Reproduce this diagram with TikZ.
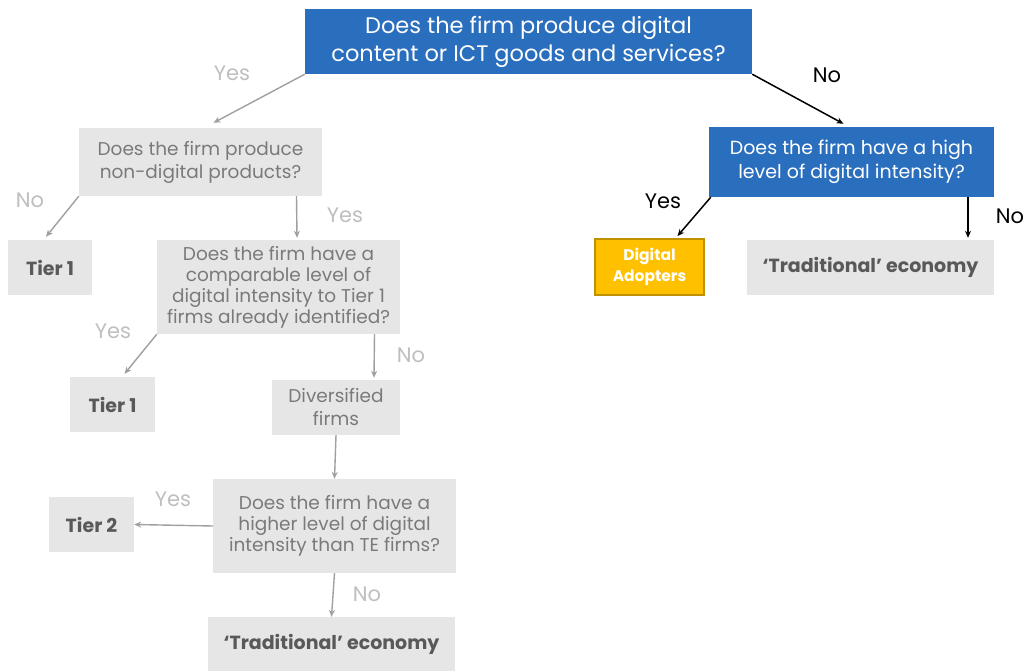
\documentclass[tikz,border=0pt]{standalone}
\usepackage{fontspec}
\setmainfont{Poppins}
\usetikzlibrary{arrows.meta,calc}
\definecolor{qblue}{HTML}{2A6EBE}
\definecolor{boxgray}{HTML}{E7E6E6}
\definecolor{txtgray}{HTML}{7A7A7A}
\definecolor{boldgray}{HTML}{595959}
\definecolor{linegray}{HTML}{A0A0A0}
\definecolor{lblgray}{HTML}{BFBFBF}
\definecolor{gold}{HTML}{FFC000}
\definecolor{golddark}{HTML}{BF9000}
\begin{document}
\begin{tikzpicture}[x=1pt,y=-1pt,
  bluebox/.style={fill=qblue,text=white,inner sep=0pt,align=center},
  graybox/.style={fill=boxgray,text=txtgray,inner sep=0pt,align=center,
    font=\fontsize{18.5}{21}\selectfont},
  endbox/.style={fill=boxgray,text=boldgray,inner sep=0pt,align=center,
    font=\fontsize{19}{23}\selectfont\bfseries},
  garrow/.style={draw=linegray,line width=1.4pt,-{Stealth[length=7pt,width=6pt]}},
  karrow/.style={draw=black,line width=1.5pt,-{Stealth[length=7pt,width=6pt]}},
  glabel/.style={text=lblgray,font=\fontsize{21}{24}\selectfont,inner sep=0pt},
  klabel/.style={text=black,font=\fontsize{21}{24}\selectfont,inner sep=0pt}]
\useasboundingbox[fill=white] (0,0) rectangle (1027,671);

% question boxes
\node[bluebox,font=\fontsize{22.5}{28}\selectfont,minimum width=447pt,minimum height=65pt]
  (top) at (528.5,41.5) {Does the firm produce digital\\content or ICT goods and services?};
\node[graybox,font=\fontsize{18.5}{23}\selectfont,minimum width=243pt,minimum height=68pt]
  (qa) at (200.5,162) {Does the firm produce\\non-digital products?};
\node[graybox,minimum width=243pt,minimum height=94pt] (qb) at (278.5,287)
  {Does the firm have a\\comparable level of\\digital intensity to Tier 1\\firms already identified?};
\node[graybox,font=\fontsize{18.5}{23}\selectfont,minimum width=128pt,minimum height=55pt]
  (div) at (336,407.5) {Diversified\\firms};
\node[graybox,minimum width=243pt,minimum height=94pt] (qc) at (334.5,526)
  {Does the firm have a\\higher level of digital\\intensity than TE firms?};
\node[bluebox,font=\fontsize{19}{24}\selectfont,minimum width=285pt,minimum height=70pt]
  (qr) at (851.5,162) {Does the firm have a high\\level of digital intensity?};

% outcome boxes
\node[endbox,minimum width=84pt,minimum height=55pt] (t1a) at (50,267.5) {Tier 1};
\node[endbox,minimum width=85pt,minimum height=55pt] (t1b) at (112.5,404.5) {Tier 1};
\node[endbox,minimum width=85pt,minimum height=55pt] (t2) at (91.5,524.5) {Tier 2};
\node[endbox,minimum width=247pt,minimum height=54pt] (teb) at (331.5,644) {‘Traditional’ economy};
\node[endbox,minimum width=247pt,minimum height=55pt] (ter) at (870.5,267.5) {‘Traditional’ economy};
\node[fill=gold,draw=golddark,line width=2pt,text=white,inner sep=0pt,align=center,
  font=\fontsize{15.5}{21}\selectfont\bfseries,minimum width=109pt,minimum height=56pt]
  (da) at (649.5,267) {Digital\\Adopters};

% connectors
\draw[garrow] (top.south west) -- ($(qa.north)+(13,-5)$);
\draw[karrow] (top.south east) -- ($(qr.north)+(-8,-3)$);
\draw[garrow] (qa.south west) -- ($(t1a.north)+(-4,-3)$);
\draw[garrow] ($(qa.south)+(96,0)$) -- ($(qb.north)+(18.5,-2)$);
\draw[garrow] (qb.south west) -- ($(t1b.north)+(12,-3)$);
\draw[garrow] ($(qb.south)+(96,0)$) -- ($(div.north)+(38,-2)$);
\draw[garrow] (div.south) -- (qc.north);
\draw[garrow] (qc.west) -- (t2.east);
\draw[garrow] (qc.south) -- (teb.north);
\draw[karrow] ($(qr.south west)+(2,0)$) -- ($(da.north)+(28,-2)$);
\draw[karrow] ($(qr.south)+(116.5,0)$) -- ($(ter.north)+(97.5,-2)$);

% branch labels
\node[glabel] (l1) at (232,73) {Yes};
\node[klabel] (l2) at (827,75) {No};
\node[glabel] (l3) at (30,200) {No};
\node[glabel] (l4) at (345,215) {Yes};
\node[glabel] (l5) at (113,331) {Yes};
\node[glabel] (l6) at (411,355) {No};
\node[glabel] (l7) at (173,499) {Yes};
\node[glabel] (l8) at (367,594) {No};
\node[klabel] (l9) at (663,201) {Yes};
\node[klabel] (l10) at (1010,216) {No};
\end{tikzpicture}
\end{document}
